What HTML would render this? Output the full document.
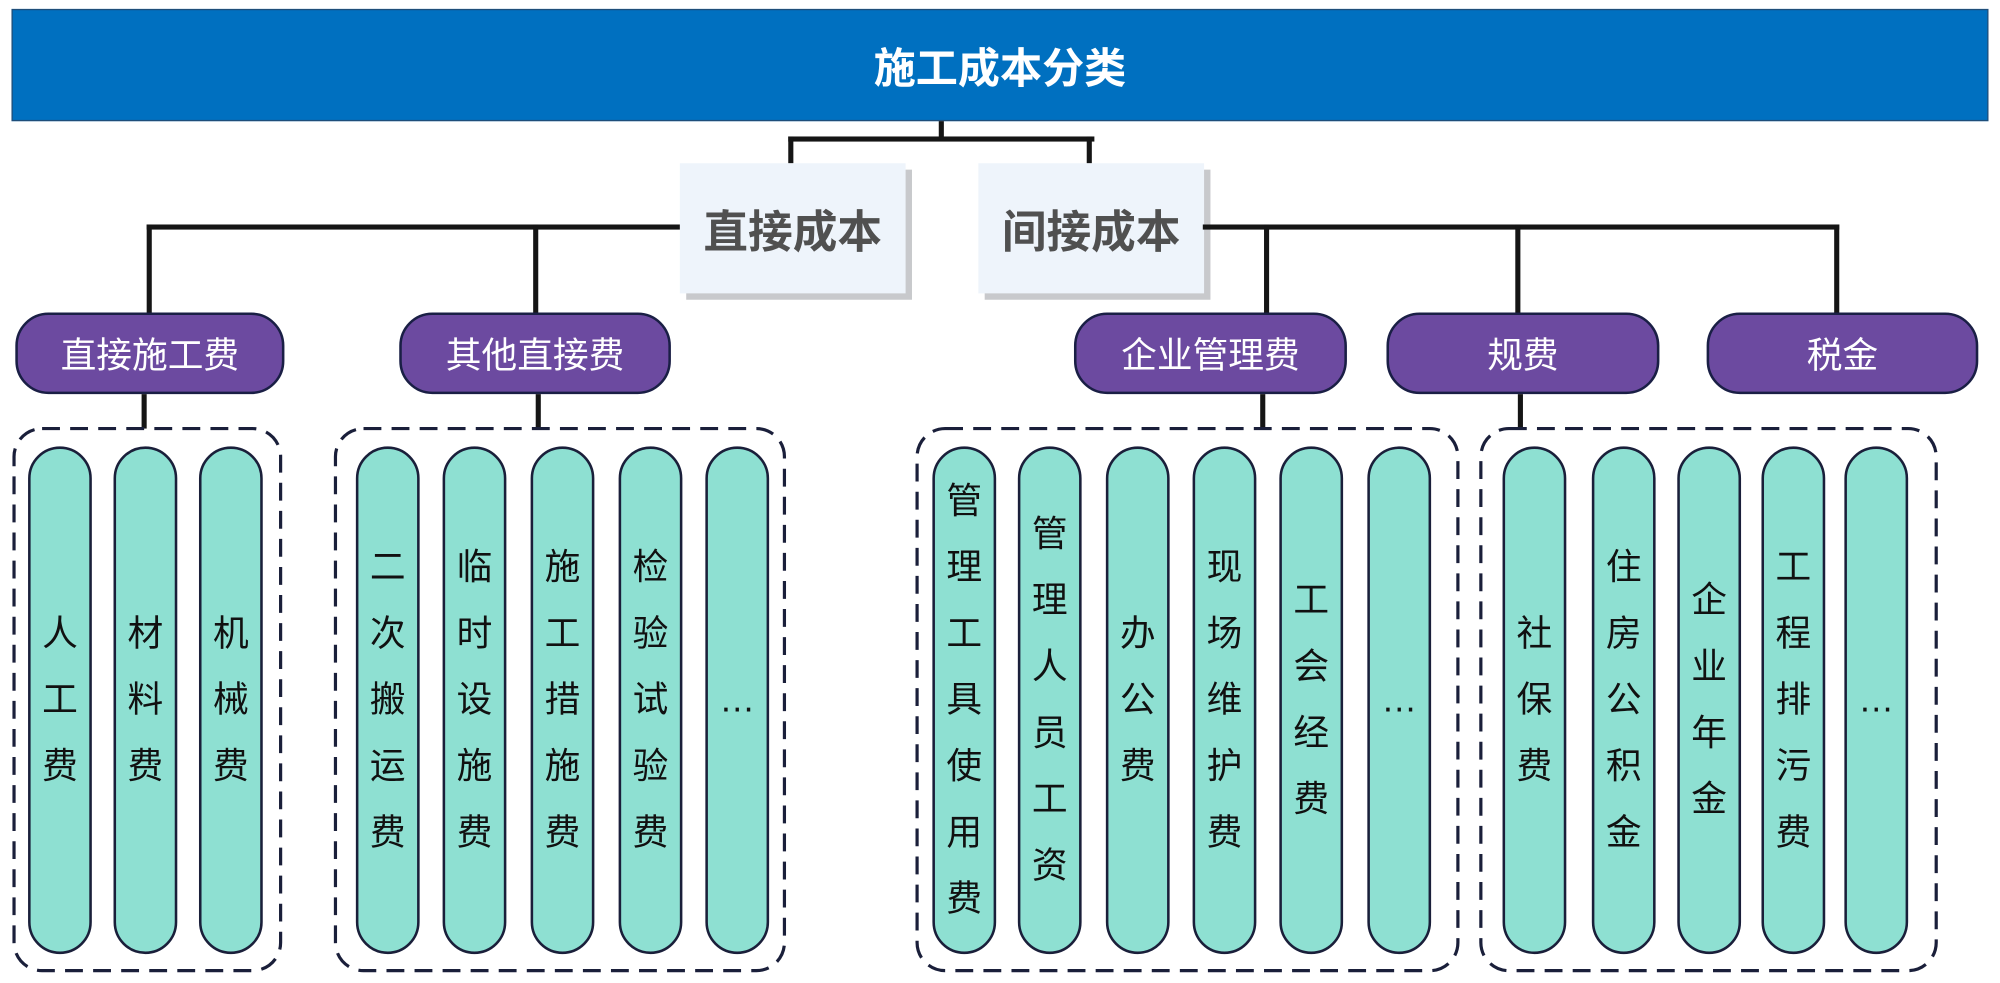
<!DOCTYPE html>
<html><head><meta charset="utf-8"><style>
html,body{margin:0;padding:0;background:#fff;width:2000px;height:983px;overflow:hidden}
#c{position:absolute;left:0;top:0;width:1568px;height:771px;transform:scale(1.2755);transform-origin:0 0;font-family:"Liberation Sans","Noto Sans CJK SC",sans-serif}
.a{position:absolute;box-sizing:border-box}
.ln{position:absolute;background:#151515}
.top{left:9px;top:7px;width:1550px;height:88px;background:#0070c0;border:1.5px solid #1f4e79;color:#fff;font-weight:bold;font-size:33px;display:flex;align-items:center;justify-content:center}
.cb{background:#eef4fb;box-shadow:5px 5px 0 #c8c9cc;color:#505050;font-weight:bold;font-size:35px;display:flex;align-items:center;justify-content:center;height:102px;top:128px;width:177px}
.pp{top:245px;height:64px;background:#6c4aa0;border:2px solid #1a1f45;border-radius:26px;color:#fff;font-size:28px;display:flex;align-items:center;justify-content:center}
.tl{top:350px;height:398px;width:50px;background:#8ee0d2;border:2px solid #1a1f3a;border-radius:25px;display:flex;align-items:center;justify-content:center;font-size:28px;color:#111;line-height:52px;text-align:center}
.tl span{display:block;width:32px}
</style></head><body><div id="c">
<div class="a top">施工成本分类</div>
<div class="ln" style="left:736px;top:95px;width:4px;height:15px"></div>
<div class="ln" style="left:618px;top:107px;width:240px;height:4px"></div>
<div class="ln" style="left:618px;top:107px;width:4px;height:21px"></div>
<div class="ln" style="left:852px;top:107px;width:4px;height:21px"></div>
<div class="a cb" style="left:533px">直接成本</div>
<div class="a cb" style="left:767px">间接成本</div>
<div class="ln" style="left:115px;top:176px;width:418px;height:4px"></div>
<div class="ln" style="left:115px;top:176px;width:4px;height:70px"></div>
<div class="ln" style="left:418px;top:176px;width:4px;height:70px"></div>
<div class="ln" style="left:943px;top:176px;width:499px;height:4px"></div>
<div class="ln" style="left:991px;top:176px;width:4px;height:70px"></div>
<div class="ln" style="left:1188px;top:176px;width:4px;height:70px"></div>
<div class="ln" style="left:1438px;top:176px;width:4px;height:70px"></div>
<div class="a pp" style="left:12px;width:211px">直接施工费</div>
<div class="a pp" style="left:313px;width:213px">其他直接费</div>
<div class="a pp" style="left:842px;width:214px">企业管理费</div>
<div class="a pp" style="left:1087px;width:214px">规费</div>
<div class="a pp" style="left:1338px;width:213px">税金</div>
<div class="ln" style="left:111px;top:309px;width:4px;height:27px"></div>
<div class="ln" style="left:420px;top:309px;width:4px;height:27px"></div>
<div class="ln" style="left:988px;top:309px;width:4px;height:27px"></div>
<div class="ln" style="left:1190px;top:309px;width:4px;height:27px"></div>
<svg class="a" style="left:0;top:0" width="1568" height="771">
<g fill="none" stroke="#1a1f3a" stroke-width="2.5" stroke-dasharray="14 8">
<rect x="11" y="336" width="209" height="425" rx="22"/>
<rect x="263" y="336" width="352" height="425" rx="22"/>
<rect x="719" y="336" width="424" height="425" rx="22"/>
<rect x="1161" y="336" width="357" height="425" rx="22"/>
</g></svg>
<div class="a tl" style="left:22px"><span>人工费</span></div>
<div class="a tl" style="left:89px"><span>材料费</span></div>
<div class="a tl" style="left:156px"><span>机械费</span></div>
<div class="a tl" style="left:279px"><span>二次搬运费</span></div>
<div class="a tl" style="left:347px"><span>临时设施费</span></div>
<div class="a tl" style="left:416px"><span>施工措施费</span></div>
<div class="a tl" style="left:485px"><span>检验试验费</span></div>
<div class="a tl" style="left:553px"><span>…</span></div>
<div class="a tl" style="left:731px"><span>管理工具使用费</span></div>
<div class="a tl" style="left:798px"><span>管理人员工资</span></div>
<div class="a tl" style="left:867px"><span>办公费</span></div>
<div class="a tl" style="left:935px"><span>现场维护费</span></div>
<div class="a tl" style="left:1003px"><span>工会经费</span></div>
<div class="a tl" style="left:1072px"><span>…</span></div>
<div class="a tl" style="left:1178px"><span>社保费</span></div>
<div class="a tl" style="left:1248px"><span>住房公积金</span></div>
<div class="a tl" style="left:1315px"><span>企业年金</span></div>
<div class="a tl" style="left:1381px"><span>工程排污费</span></div>
<div class="a tl" style="left:1446px"><span>…</span></div>
</div></body></html>
